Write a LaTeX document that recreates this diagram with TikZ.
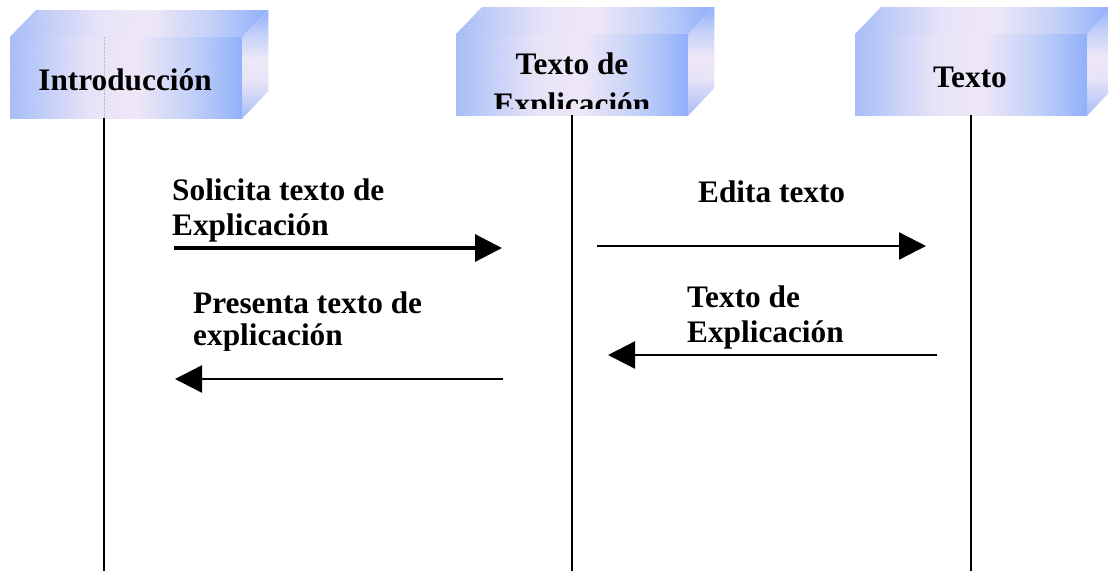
\documentclass[tikz,border=0pt]{standalone}
\usepackage{fontspec}
\setmainfont{Liberation Serif}
\usetikzlibrary{arrows.meta, patterns}

\pgfdeclarehorizontalshading{boxshade}{100bp}{rgb(0bp)=(0.58,0.70,0.98); rgb(25bp)=(0.62,0.72,0.97);
	rgb(42bp)=(0.90,0.88,0.97); rgb(52bp)=(0.93,0.90,0.97); rgb(64bp)=(0.74,0.80,0.97);
	rgb(75bp)=(0.52,0.66,0.98); rgb(100bp)=(0.52,0.66,0.98)}

\begin{document}
\begin{tikzpicture}[x=1pt, y=-1pt,
	face/.style={shading=boxshade,
		postaction={pattern=north east lines, pattern color=white, opacity=0.3}},
	box/.style={face, anchor=north west, minimum width=232pt, minimum height=81pt, inner sep=0pt},
	title/.style={font=\bfseries\fontsize{31.3}{35}\selectfont, align=center, anchor=base, inner sep=0pt},
	msg/.style={font=\bfseries\fontsize{31.3}{35}\selectfont, align=left, anchor=base west, inner sep=0pt},
	life/.style={line width=2pt},
	call/.style={-{Triangle[length=27pt, width=27pt]}}]
					\useasboundingbox (0,0) rectangle (1108,571);
					\clip (0,0) rectangle (1108,571);
					
					% boxes
					\node[box] (intro) at (10,37) {};
					\shade[face] (intro.north west) -- ++(26,-27) -- ++(232,0) -- (intro.north east) -- cycle;
					\shade[face, shading angle=90] (intro.north east) -- ++(26,-27) -- ++(0,81) -- (intro.south east) -- cycle;
					
					\node[box] (expl) at (456,34) {};
					\shade[face] (expl.north west) -- ++(26,-27) -- ++(232,0) -- (expl.north east) -- cycle;
					\shade[face, shading angle=90] (expl.north east) -- ++(26,-27) -- ++(0,81) -- (expl.south east) -- cycle;
					
					\node[box] (texto) at (855,34) {};
					\shade[face] (texto.north west) -- ++(26,-27) -- ++(232,0) -- (texto.north east) -- cycle;
					\shade[face, shading angle=90] (texto.north east) -- ++(26,-27) -- ++(0,81) -- (texto.south east) -- cycle;
					
					% lifelines
					\coordinate (l1) at (104,571);
					\draw[gray!50, densely dotted] (l1 |- intro.north) -- (l1 |- intro.south);
					\draw[life] (l1 |- intro.south) -- (l1);
					\draw[life] (expl.south) -- (expl.south |- l1);
					\draw[life] (texto.south) -- (texto.south |- l1);
					
					% box titles
					\node[title] (intro-t) at (125,90) {Introducción};
					\begin{scope}
						\clip (456,0) rectangle (688,108);
						\node[title] (expl-t) at (572,114) {Texto de\\[5pt]Explicación};
					\end{scope}
					\node[title] (texto-t) at (970,87) {Texto};
					
					% messages
					\coordinate (a1) at (174,248);
					\coordinate (b1) at (502,248);
					\draw[call, line width=3.3pt] (a1) -- (b1);
					\node[msg] (m1) at (172,235) {Solicita texto de\\Explicación};
					
					\coordinate (a2) at (503,379);
					\coordinate (b2) at (175,379);
					\draw[call, line width=2.5pt] (a2) -- (b2);
					\begin{scope}
						\clip (150,250) rectangle (520,350);
						\node[msg] (m2) at (193,345) {Presenta texto de\\[-3pt]explicación};
					\end{scope}
					
					\coordinate (a3) at (597,246);
					\coordinate (b3) at (926,246);
					\draw[call, line width=2.3pt] (a3) -- (b3);
					\node[msg] (m3) at (698,202) {Edita texto};
					
					\coordinate (a4) at (937,355);
					\coordinate (b4) at (608,355);
					\draw[call, line width=2.3pt] (a4) -- (b4);
					\node[msg] (m4) at (687,342) {Texto de\\Explicación};
				\end{tikzpicture}
\end{document}
